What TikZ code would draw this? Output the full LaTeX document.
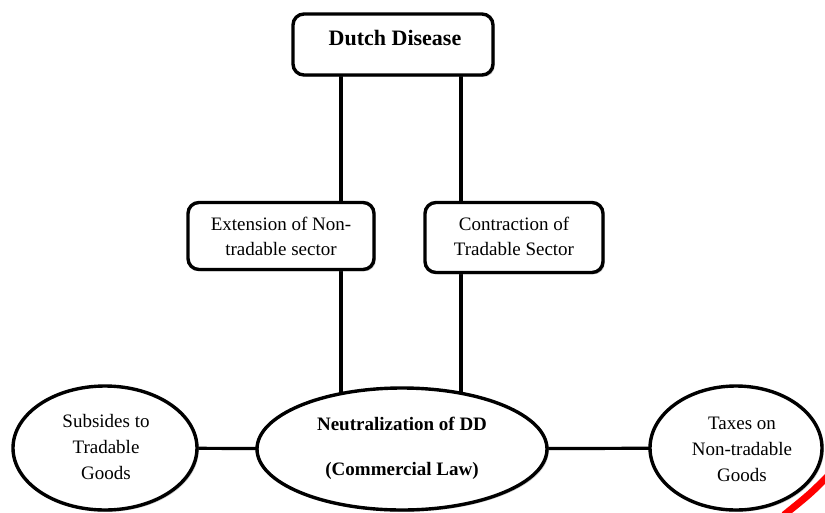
\documentclass[tikz,border=0pt]{standalone}
\usepackage{fontspec}
\setmainfont{Liberation Serif}
\usetikzlibrary{shapes.geometric,shadows,backgrounds}
\begin{document}
\begin{tikzpicture}[x=1pt,y=-1pt,
  bx/.style={draw=black,line width=3.4pt,rounded corners=11pt,fill=white,
    drop shadow={opacity=0.4,shadow xshift=1.8pt,shadow yshift=-1.8pt},inner sep=0pt},
  el/.style={ellipse,draw=black,line width=3.4pt,fill=white,
    drop shadow={opacity=0.4,shadow xshift=1.8pt,shadow yshift=-1.8pt},inner sep=0pt},
  conn/.style={line width=3.2pt,black},
  txt/.style={align=center,inner sep=0pt,font=\fontsize{19}{25}\selectfont}]
\useasboundingbox (0,0) rectangle (825,512);
% boxes
\node[bx,minimum width=200pt,minimum height=61pt] (dd) at (393,44.5) {};
\node[txt,font=\fontsize{22}{26}\selectfont\bfseries] (ddt) at (395,38) {Dutch Disease};
\node[bx,minimum width=186pt,minimum height=67pt] (ext) at (281,236) {};
\node[txt] (extt) at (281,236.5) {Extension of Non-\\tradable sector};
\node[bx,minimum width=178pt,minimum height=70pt] (con) at (514,237.5) {};
\node[txt] (cont) at (514,236.5) {Contraction of\\Tradable Sector};
% ellipses
\node[el,minimum width=290pt,minimum height=122pt] (neut) at (402,449) {};
\node[txt,font=\fontsize{19}{45}\selectfont\bfseries] (neutt) at (402,448) {Neutralization of DD\\(Commercial Law)};
\node[el,minimum width=184pt,minimum height=124pt] (sub) at (105,448) {};
\node[txt,font=\fontsize{19}{26}\selectfont] (subt) at (106,447) {Subsides to\\Tradable\\Goods};
\node[el,minimum width=172pt,minimum height=124pt] (tax) at (736,448) {};
\node[txt,font=\fontsize{19}{26}\selectfont] (taxt) at (742,449) {Taxes on\\Non-tradable\\Goods};
% connector x positions
\coordinate (c1) at (341,0);
\coordinate (c2) at (461,0);
\begin{scope}[on background layer]
\draw[conn] (dd.center -| c1) -- (ext.center -| c1);
\draw[conn] (dd.center -| c2) -- (con.center -| c2);
\draw[conn] (ext.center -| c1) -- (neut.center -| c1);
\draw[conn] (con.center -| c2) -- (neut.center -| c2);
\draw[conn] (sub.center) -- (neut.center);
\draw[conn] (neut.center) -- (tax.center);
\end{scope}
% red stroke
\coordinate (r1) at (828,476);
\coordinate (r2) at (784,515);
\draw[red,line width=7pt] (r1) .. controls (810,494) .. (r2);
\end{tikzpicture}
\end{document}
